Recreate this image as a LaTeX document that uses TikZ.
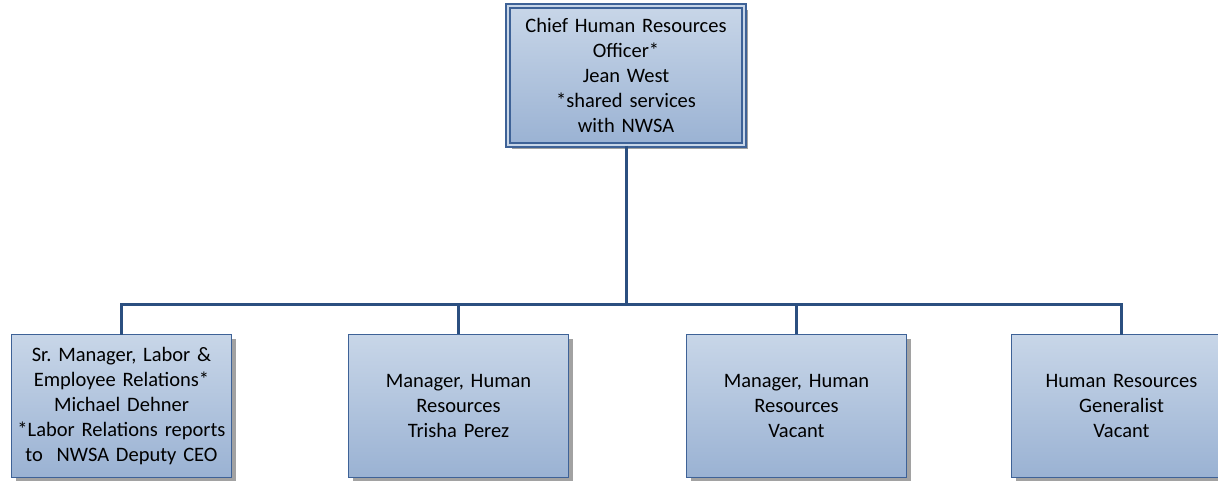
\documentclass[tikz,border=0pt]{standalone}
\usepackage{fontspec}
\setmainfont{Carlito}
\usetikzlibrary{shadows}
\frenchspacing
\definecolor{boxtop}{HTML}{C8D6E8}
\definecolor{boxbot}{HTML}{9AB2D3}
\definecolor{boxline}{HTML}{3E6297}
\definecolor{wire}{HTML}{2B4F80}
\definecolor{shadowgray}{HTML}{A2A2A2}
\tikzset{
  rolebox/.style={rectangle, draw=boxline, line width=1.5pt, top color=boxtop, bottom color=boxbot,
    minimum width=220pt, minimum height=143pt, text width=214pt, align=center, inner sep=0pt,
    font=\fontsize{20.5}{25}\selectfont,
    drop shadow={shadow xshift=4pt, shadow yshift=-4pt, fill=shadowgray, opacity=1}},
  headbox/.style={rolebox, minimum width=236pt, minimum height=139pt, double=boxtop, double distance=2.5pt, line width=1.3pt},
  wireline/.style={draw=wire, line width=3pt}
}
\begin{document}
\begin{tikzpicture}[x=1pt,y=-1pt]
\clip (0,0) rectangle (1218,480);
\fill[white] (0,0) rectangle (1218,480);
\node[headbox] (chro) at (626,75.5) {Chief Human Resources\\Officer*\\Jean West\\{*}shared services\\with NWSA};
\node[rolebox] (labor) at (121.5,406) {Sr. Manager, Labor \&\\Employee Relations*\\Michael Dehner\\{*}Labor Relations reports\\to~ NWSA Deputy CEO};
\node[rolebox] (mgr1) at (458.5,406) {Manager, Human\\Resources\\Trisha Perez};
\node[rolebox] (mgr2) at (796.5,406) {Manager, Human\\Resources\\Vacant};
\node[rolebox] (gen) at (1121.5,406) {Human Resources\\Generalist\\Vacant};
\coordinate (bus) at (626,304.5);
\draw[wireline] (chro.south) -- (bus);
\draw[wireline, line cap=rect] (labor.north) |- (bus) -| (gen.north);
\draw[wireline] (mgr1.north) -- (mgr1.north |- bus);
\draw[wireline] (mgr2.north) -- (mgr2.north |- bus);
\end{tikzpicture}
\end{document}
